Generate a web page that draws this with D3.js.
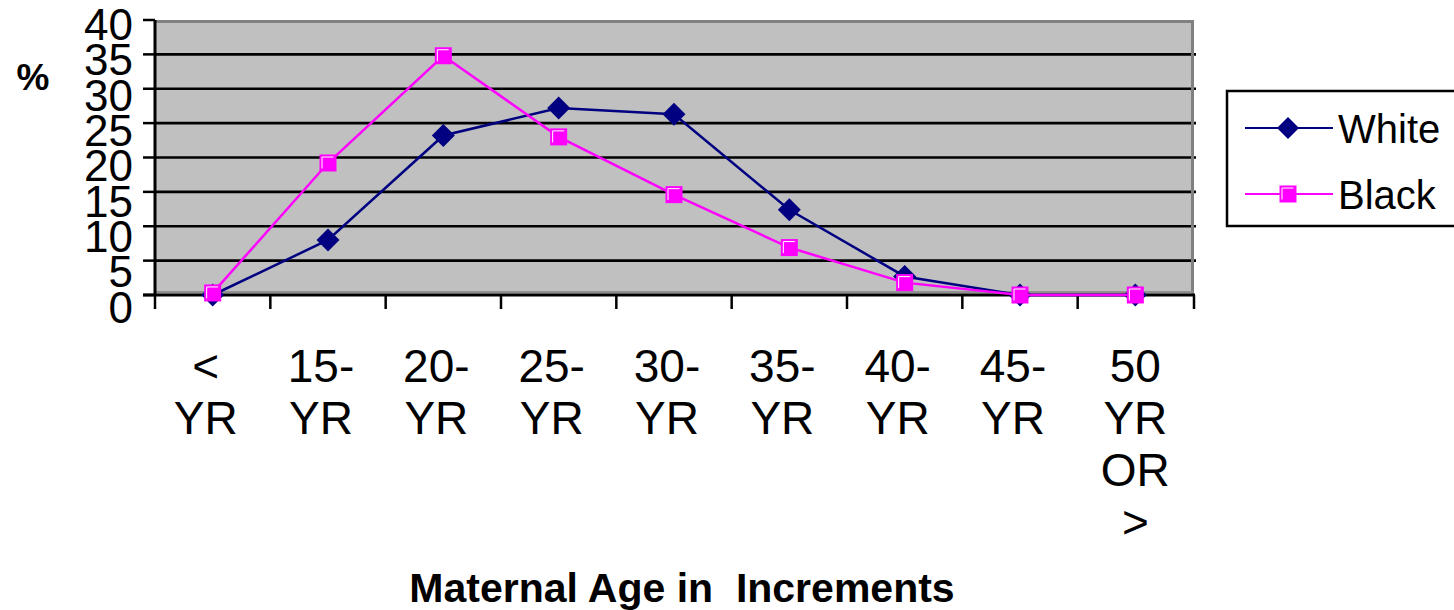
<!DOCTYPE html>
<html>
<head>
<meta charset="utf-8">
<script src="https://cdn.jsdelivr.net/npm/d3@7"></script>
<style>
  html, body { margin: 0; padding: 0; background: #ffffff; }
  svg { display: block; }
  text { font-family: "Liberation Sans", Arial, sans-serif; fill: #000; }
</style>
</head>
<body>
<svg id="chart" width="1454" height="610"></svg>
<script>
// ---- data ----
const categories = ["< YR", "15- YR", "20- YR", "25- YR", "30- YR", "35- YR", "40- YR", "45- YR", "50 YR OR >"];
const whiteValues = [0, 8.0, 23.2, 27.2, 26.3, 12.4, 2.7, 0, 0];
const blackValues = [0.3, 19.2, 34.8, 23.0, 14.6, 6.9, 1.8, 0, 0];
const yTicks = [0, 5, 10, 15, 20, 25, 30, 35, 40];
const seriesNames = ["White", "Black"];
const yLabel = "%";
const xTitle = "Maternal Age in  Increments";

// ---- layout ----
const plot = { left: 155, right: 1193, top: 20, bottom: 295 };
const colors = { White: "#000080", Black: "#ff00ff" };

const svg = d3.select("#chart");

const x = d3.scaleBand().domain(categories).range([plot.left, plot.right]).paddingInner(0).paddingOuter(0);
const y = d3.scaleLinear().domain([0, 40]).range([plot.bottom, plot.top]);
// label placement scale (labels in reference sit slightly lower than ticks)
const yLab = d3.scaleLinear().domain([0, 40]).range([307, 24]);
const cx = d => x(d) + x.bandwidth() / 2;

// plot background
svg.append("rect")
  .attr("x", plot.left).attr("y", plot.top)
  .attr("width", plot.right - plot.left).attr("height", plot.bottom - plot.top)
  .attr("fill", "#c0c0c0");

// gridlines
svg.append("g").selectAll("line")
  .data(yTicks.filter(t => t > 0 && t < 40))
  .join("line")
  .attr("x1", plot.left).attr("x2", plot.right + 3)
  .attr("y1", d => y(d)).attr("y2", d => y(d))
  .attr("stroke", "#000").attr("stroke-width", 2.6);

// gray border top/right
svg.append("path")
  .attr("d", `M${plot.left},${plot.top + 1.5}H${plot.right - 0.5}V${plot.bottom}`)
  .attr("fill", "none").attr("stroke", "#808080").attr("stroke-width", 3);
svg.append("line")
  .attr("x1", plot.left).attr("x2", plot.right)
  .attr("y1", plot.bottom - 3).attr("y2", plot.bottom - 3)
  .attr("stroke", "#909090").attr("stroke-width", 2);

// y axis
const yAxis = svg.append("g");
yAxis.append("line")
  .attr("x1", plot.left).attr("x2", plot.left)
  .attr("y1", plot.top).attr("y2", plot.bottom + 1)
  .attr("stroke", "#000").attr("stroke-width", 3);
yAxis.selectAll("line.tick").data(yTicks).join("line")
  .attr("class", "tick")
  .attr("x1", plot.left - 12).attr("x2", plot.left)
  .attr("y1", d => y(d)).attr("y2", d => y(d))
  .attr("stroke", "#000").attr("stroke-width", 2.5);
yAxis.selectAll("text").data(yTicks).join("text")
  .attr("x", 133).attr("y", d => yLab(d))
  .attr("dy", "0.36em")
  .attr("text-anchor", "end")
  .attr("font-size", 44)
  .text(d => d);

// x axis
const xAxis = svg.append("g");
xAxis.append("line")
  .attr("x1", plot.left - 12).attr("x2", plot.right + 2)
  .attr("y1", plot.bottom).attr("y2", plot.bottom)
  .attr("stroke", "#000").attr("stroke-width", 3);
const bounds = categories.map(c => x(c)).concat([plot.right + 1]);
xAxis.selectAll("line.tick").data(bounds).join("line")
  .attr("class", "tick")
  .attr("x1", d => d).attr("x2", d => d)
  .attr("y1", plot.bottom).attr("y2", plot.bottom + 14)
  .attr("stroke", "#000").attr("stroke-width", 2.5);

const xl = xAxis.selectAll("text.cat").data(categories).join("text")
  .attr("class", "cat")
  .attr("text-anchor", "middle")
  .attr("font-size", 46)
  .attr("y", 382);
xl.each(function(d, i) {
  const parts = d.split(" ");
  const off = i === categories.length - 1 ? 0 : -7;
  d3.select(this).selectAll("tspan").data(parts).join("tspan")
    .attr("x", cx(d) + off)
    .attr("dy", (p, j) => j === 0 ? 0 : 52)
    .text(p => p);
});

// y label
svg.append("text")
  .attr("x", 33).attr("y", 90)
  .attr("text-anchor", "middle")
  .attr("font-size", 37).attr("font-weight", "bold")
  .text(yLabel);

// x title
svg.append("text")
  .attr("x", 682).attr("y", 602)
  .attr("text-anchor", "middle")
  .attr("font-size", 41).attr("font-weight", "bold")
  .attr("xml:space", "preserve")
  .style("white-space", "pre")
  .text(xTitle);

// lines
const line = d3.line().x((v, i) => cx(categories[i])).y(v => y(v));
const series = [
  { name: seriesNames[0], values: whiteValues },
  { name: seriesNames[1], values: blackValues }
];

function diamond(g, px, py, r) {
  g.append("path")
    .attr("d", `M${px},${py - r}L${px + r},${py}L${px},${py + r}L${px - r},${py}Z`)
    .attr("fill", colors.White);
}
function square(g, px, py, s) {
  g.append("rect")
    .attr("x", px - s / 2).attr("y", py - s / 2)
    .attr("width", s).attr("height", s)
    .attr("fill", colors.Black);
  g.append("path")
    .attr("d", `M${px - s / 2 + 2.5},${py + s / 2 - 3}V${py - s / 2 + 2.5}H${px + s / 2 - 3}`)
    .attr("fill", "none").attr("stroke", "#ffffff").attr("stroke-width", 1);
}

series.forEach(s => {
  const g = svg.append("g");
  g.append("path")
    .attr("d", line(s.values))
    .attr("fill", "none")
    .attr("stroke", colors[s.name])
    .attr("stroke-width", 2.5);
  s.values.forEach((v, i) => {
    const px = cx(categories[i]), py = y(v);
    if (s.name === "White") diamond(g, px, py, 11.5);
    else square(g, px, py, 17);
  });
});

// legend
const lg = svg.append("g");
lg.append("rect")
  .attr("x", 1227).attr("y", 91)
  .attr("width", 260).attr("height", 135)
  .attr("fill", "#fff").attr("stroke", "#000").attr("stroke-width", 2.5);
series.forEach((s, i) => {
  const ly = 128 + i * 66;
  lg.append("line")
    .attr("x1", 1245).attr("x2", 1333)
    .attr("y1", ly).attr("y2", ly)
    .attr("stroke", colors[s.name]).attr("stroke-width", 2.2);
  if (s.name === "White") diamond(lg, 1288, ly, 11);
  else square(lg, 1288, ly, 17);
  lg.append("text")
    .attr("x", 1338).attr("y", ly + 15)
    .attr("font-size", 40)
    .text(s.name);
});
</script>
</body>
</html>
